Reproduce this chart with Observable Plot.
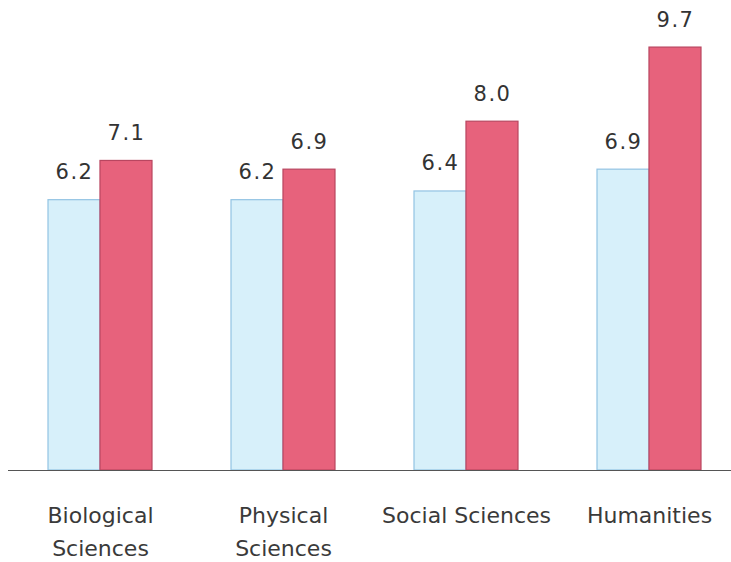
<!DOCTYPE html>
<html>
<head>
<meta charset="utf-8">
<script src="https://cdn.jsdelivr.net/npm/d3@7"></script>
<script src="https://cdn.jsdelivr.net/npm/@observablehq/plot@0.6"></script>
<style>
  html, body { margin: 0; padding: 0; background: #fff; }
  svg { display: block; }
  .vals text { letter-spacing: 1.5px; }
</style>
</head>
<body>
<div id="chart"></div>
<script>
const categories = ["Biological\nSciences", "Physical\nSciences", "Social Sciences", "Humanities"];
const seriesA = [6.2, 6.2, 6.4, 6.9];   // light blue bars
const seriesB = [7.1, 6.9, 8.0, 9.7];   // red bars

const W = 731, H = 562;
const mL = 8, mR = 0, mT = 34, mB = 92;
const pIn = 0.432, pOut = 0.191, align = 0.571;
const step = (W - mL - mR) / (categories.length - pIn + 2 * pOut);
const bw = step * (1 - pIn);
const half = bw / 2;

const rowsA = categories.map((c, i) => ({cat: c, v: seriesA[i]}));
const rowsB = categories.map((c, i) => ({cat: c, v: seriesB[i]}));

const chart = Plot.plot({
  width: W,
  height: H,
  marginLeft: mL,
  marginRight: mR,
  marginTop: mT,
  marginBottom: mB,
  style: {fontFamily: "DejaVu Sans, sans-serif", background: "#fff"},
  x: {type: "band", domain: categories, paddingInner: pIn, paddingOuter: pOut, align},
  y: {domain: [0, 10], axis: null},
  marks: [
    Plot.barY(rowsA, {x: "cat", y: "v", insetRight: half, fill: "#d7f0fa", stroke: "#92c3e3", strokeWidth: 1.2}),
    Plot.barY(rowsB, {x: "cat", y: "v", insetLeft: half, fill: "#e7627c", stroke: "#b94660", strokeWidth: 1.2}),
    Plot.ruleY([0], {stroke: "#555", strokeWidth: 1.2}),
    Plot.text(rowsA, {x: "cat", y: "v", dx: -half / 2, dy: -21, text: d => d.v.toFixed(1), lineAnchor: "bottom", fontSize: 21, fill: "#333", className: "vals"}),
    Plot.text(rowsB, {x: "cat", y: "v", dx: half / 2, dy: -21, text: d => d.v.toFixed(1), lineAnchor: "bottom", fontSize: 21, fill: "#333", className: "vals"}),
    Plot.axisX({tickSize: 0, tickPadding: 29, fontSize: 22, lineHeight: 1.5, fill: "#3a3a3a", label: null})
  ]
});
document.getElementById("chart").appendChild(chart);
</script>
</body>
</html>
